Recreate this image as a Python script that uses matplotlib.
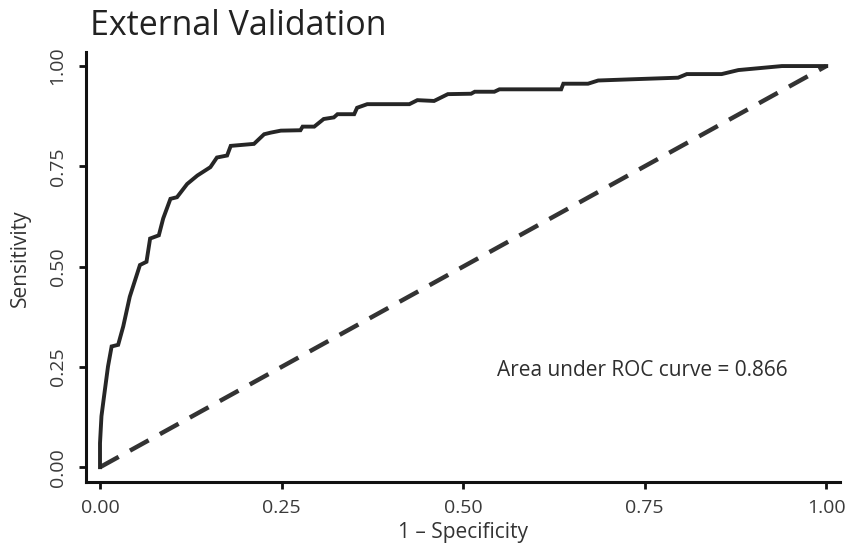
import matplotlib
matplotlib.use("Agg")
import matplotlib.pyplot as plt

fpr = [0.0, 0.0, 0.002, 0.005, 0.011, 0.016, 0.025, 0.032, 0.041, 0.055, 0.064, 0.069,
       0.081, 0.087, 0.097, 0.106, 0.120, 0.134, 0.152, 0.161, 0.175, 0.180, 0.212,
       0.226, 0.235, 0.249, 0.276, 0.279, 0.295, 0.308, 0.322, 0.327, 0.350, 0.354,
       0.368, 0.426, 0.437, 0.460, 0.479, 0.511, 0.516, 0.543, 0.550, 0.635, 0.638,
       0.672, 0.686, 0.732, 0.796, 0.808, 0.856, 0.879, 0.939, 1.0]
tpr = [0.0, 0.06, 0.127, 0.169, 0.251, 0.301, 0.305, 0.351, 0.425, 0.504, 0.512, 0.570,
       0.578, 0.620, 0.669, 0.673, 0.706, 0.727, 0.748, 0.772, 0.777, 0.801, 0.806,
       0.830, 0.834, 0.839, 0.840, 0.849, 0.849, 0.868, 0.872, 0.880, 0.880, 0.896,
       0.905, 0.905, 0.915, 0.913, 0.930, 0.931, 0.936, 0.936, 0.942, 0.942, 0.956,
       0.956, 0.964, 0.967, 0.971, 0.980, 0.980, 0.990, 1.0, 1.0]
ref_x = [0.0, 1.0]
ref_y = [0.0, 1.0]
ticks = [0.0, 0.25, 0.5, 0.75, 1.0]
tick_labels = ["0.00", "0.25", "0.50", "0.75", "1.00"]
title = "External Validation"
auc_text = "Area under ROC curve = 0.866"

plt.rcParams['font.family'] = ['Open Sans', 'DejaVu Sans']
col = "#262626"

fig = plt.figure(figsize=(8.48, 5.47), dpi=100)
ax = fig.add_axes([0.1014, 0.1188, 0.8892, 0.7861])

ax.plot(ref_x, ref_y, color="#333333", lw=3.2, linestyle=(0, (4.8, 2.9)), solid_capstyle='butt')
ax.plot(fpr, tpr, color=col, lw=2.8, solid_joinstyle='miter')

ax.set_xlim(-0.0193, 1.019)
ax.set_ylim(-0.037, 1.035)
ax.set_xticks(ticks)
ax.set_xticklabels(tick_labels)
ax.set_yticks(ticks)
ax.set_yticklabels(tick_labels, rotation=90, va='center')

for s in ['top', 'right']:
    ax.spines[s].set_visible(False)
for s in ['left', 'bottom']:
    ax.spines[s].set_linewidth(2.2)
    ax.spines[s].set_color("#111111")
ax.tick_params(axis='both', direction='out', length=5, width=2.0, color="#111111",
               labelsize=14, labelcolor="#3a3a3a")
ax.tick_params(axis='x', pad=7)
ax.tick_params(axis='y', pad=9)

ax.set_xlabel("1 – Specificity", fontsize=15, color="#333333", labelpad=4)
ax.set_ylabel("Sensitivity", fontsize=15, color="#333333")
ax.yaxis.set_label_coords(-0.073, 0.521)

ax.text(0.547, 0.242, auc_text, fontsize=15, color="#2e2e2e", ha='left', va='center')

fig.text(0.106, 0.952, title, fontsize=24.5, color="#222222", ha='left', va='center')

fig.savefig("out.png", dpi=100)
